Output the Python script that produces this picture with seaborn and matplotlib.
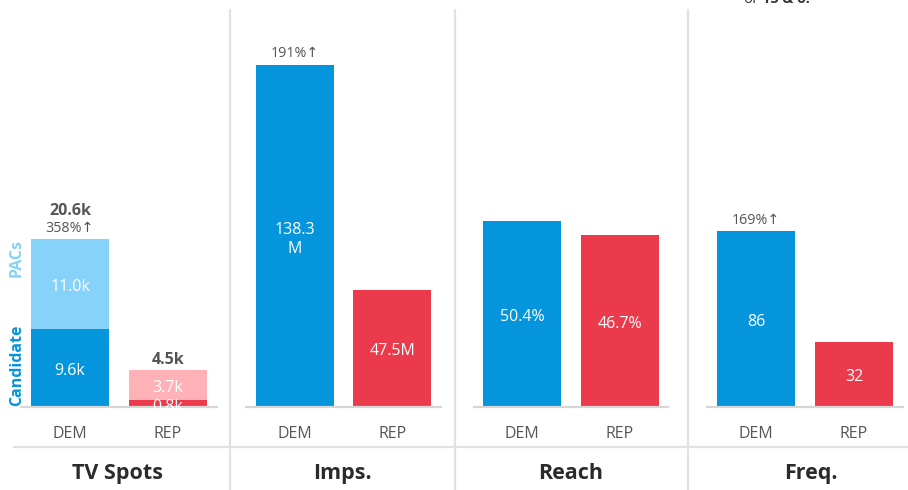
import matplotlib
matplotlib.use("Agg")
import matplotlib.pyplot as plt
import seaborn as sns
import pandas as pd
from matplotlib.lines import Line2D

# ---- data ----
parties = ["DEM", "REP"]
spots_candidate = [9.6, 0.8]      # thousands
spots_pacs = [11.0, 3.7]          # thousands
spots_total = [20.6, 4.5]         # thousands
imps = [138.3, 47.5]              # millions
reach = [50.4, 46.7]              # percent
freq = [86, 32]
panel_titles = ["TV Spots", "Imps.", "Reach", "Freq."]
dem_lift = ["358%\u2191", "191%\u2191", None, "169%\u2191"]

# ---- style ----
sns.set_theme(style="white")
plt.rcParams["font.family"] = ["Open Sans", "DejaVu Sans"]

BLUE = "#0595dc"
LIGHT_BLUE = "#87d2f9"
RED = "#eb3a4b"
PINK = "#feb2b8"
GRID = "#e1e1e1"
TXT = "#555555"

W, H = 908, 490
fig = plt.figure(figsize=(W / 100, H / 100), dpi=100)

base_px = 407
top_px = 10
ax_bottom = (H - base_px) / H
ax_height = (base_px - top_px) / H

# (left px, right px, y upper limit)
layout = [
    (21, 217, 48.7),
    (246, 441, 160.5),
    (473.5, 668.5, 107.6),
    (707, 903, 194.0),
]

axes = []
for left, right, ymax in layout:
    ax = fig.add_axes([left / W, ax_bottom, (right - left) / W, ax_height])
    ax.set_ylim(0, ymax)
    axes.append(ax)

pal = {"DEM": BLUE, "REP": RED}
pal_light = {"DEM": LIGHT_BLUE, "REP": PINK}
bar_kw = dict(x="party", y="value", hue="party", dodge=False, legend=False,
              width=0.8, saturation=1, linewidth=0)

# TV spots: stacked candidate + PAC
df_tot = pd.DataFrame({"party": parties, "value": spots_total})
df_cand = pd.DataFrame({"party": parties, "value": spots_candidate})
sns.barplot(data=df_tot, palette=pal_light, ax=axes[0], **bar_kw)
sns.barplot(data=df_cand, palette=pal, ax=axes[0], **bar_kw)

for ax, vals in zip(axes[1:], [imps, reach, freq]):
    d = pd.DataFrame({"party": parties, "value": vals})
    sns.barplot(data=d, palette=pal, ax=ax, **bar_kw)


def bar_label(ax, x, y, text, **kw):
    ax.annotate(text, (x, y), xytext=(0, -2.2), textcoords="offset points",
                color="white", fontsize=11.5, ha="center", va="center",
                annotation_clip=False, **kw)


# in-bar labels
ax = axes[0]
for i in range(2):
    t = bar_label(ax, i, spots_candidate[i] / 2, f"{spots_candidate[i]:.1f}k")
    bar_label(ax, i, spots_candidate[i] + spots_pacs[i] / 2, f"{spots_pacs[i]:.1f}k")
    ax.annotate(f"{spots_total[i]:.1f}k", (i, spots_total[i]), xytext=(0, 1.5 if i else 14.5),
                textcoords="offset points", ha="center", va="bottom",
                fontsize=11.5, fontweight="bold", color=TXT)
for t in ax.texts:
    t.set_clip_on(True)

bar_label(axes[1], 0, imps[0] / 2, f"{imps[0]:.1f}\nM", linespacing=1.25)
bar_label(axes[1], 1, imps[1] / 2, f"{imps[1]:.1f}M")
for i in range(2):
    bar_label(axes[2], i, reach[i] / 2, f"{reach[i]:.1f}%")
    bar_label(axes[3], i, freq[i] / 2, f"{freq[i]}")

# DEM lift labels above the DEM bars
dem_tops = [spots_total[0], imps[0], reach[0], freq[0]]
for ax, lift, top in zip(axes, dem_lift, dem_tops):
    if lift:
        ax.annotate(lift, (0, top), xytext=(0, 2.5), textcoords="offset points",
                    ha="center", va="bottom", fontsize=10.3, color=TXT)

for ax in axes:
    sns.despine(ax=ax, left=True)
    ax.spines["bottom"].set_color("#d6d6d6")
    ax.spines["bottom"].set_linewidth(1.6)
    ax.set_xlim(-0.5, 1.5)
    ax.set_xlabel("")
    ax.set_ylabel("")
    ax.set_yticks([])
    ax.tick_params(axis="x", length=0, pad=14, labelsize=11.5, labelcolor=TXT)

# stack legend as rotated labels
fig.text(17 / W, 1 - 365 / H, "Candidate", rotation=90, ha="center", va="center",
         fontsize=11.5, fontweight="bold", color=BLUE)
fig.text(17 / W, 1 - 258 / H, "PACs", rotation=90, ha="center", va="center",
         fontsize=11.5, fontweight="bold", color=LIGHT_BLUE)

# panel separators and footer rule
for x in [230, 455, 688]:
    fig.add_artist(Line2D([x / W, x / W], [1 - 10 / H, 0], transform=fig.transFigure,
                          color=GRID, lw=1.6))
fig.add_artist(Line2D([14 / W, 1], [1 - 447 / H] * 2, transform=fig.transFigure,
                      color=GRID, lw=1.6))

for x, t in zip([117, 342, 571, 811], panel_titles):
    fig.text(x / W, 1 - 473 / H, t, ha="center", va="center", fontsize=15.5,
             fontweight="bold", color="#2b2b2b")

# note at the top edge
fig.text(743 / W, 1 - 3 / H, "of", ha="left", va="baseline", fontsize=10.5, color="#333333")
fig.text(762 / W, 1 - 3 / H, "15 & 6.", ha="left", va="baseline", fontsize=10.5,
         fontweight="bold", color="#333333")

fig.savefig("out.png", dpi=100)
